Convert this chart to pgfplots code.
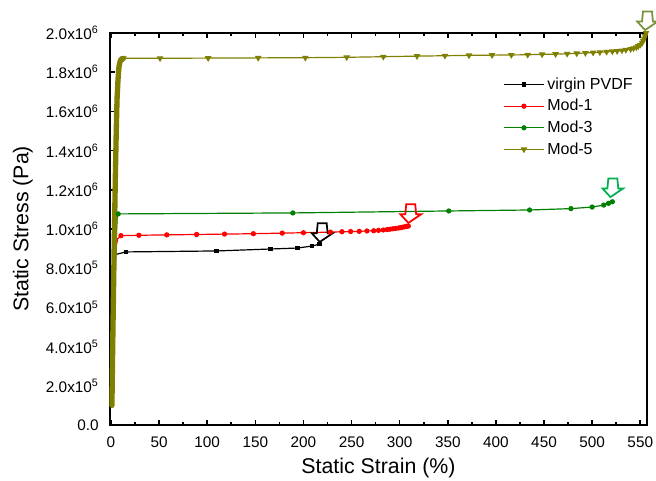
\documentclass[border=0pt]{standalone}
\usepackage{fontspec}
\setmainfont{Liberation Sans}
\usepackage{pgfplots}
\pgfplotsset{compat=1.18}
\definecolor{myred}{RGB}{255,0,0}
\definecolor{mygreen}{RGB}{0,128,0}
\definecolor{myolive}{RGB}{128,128,0}
\definecolor{arrgreen}{RGB}{0,176,80}
\definecolor{arrolive}{RGB}{118,146,60}
\begin{document}
\begin{tikzpicture}
\begin{axis}[
  scale only axis, width=402.75pt, height=294pt,
  xmin=-1, xmax=557, ymin=0, ymax=2000000,
  clip=false,
  axis line style={line width=2pt},
  tick align=inside,
  xtick pos=both, ytick pos=left,
  major tick length=4pt, minor tick length=2.5pt,
  every tick/.style={black, line width=1.2pt},
  xtick={0,50,...,550},
  minor x tick num=1,
  ytick={0,200000,400000,600000,800000,1000000,1200000,1400000,1600000,1800000,2000000},
  yticklabels={0.0,2.0x10\textsuperscript{5},4.0x10\textsuperscript{5},6.0x10\textsuperscript{5},8.0x10\textsuperscript{5},1.0x10\textsuperscript{6},1.2x10\textsuperscript{6},1.4x10\textsuperscript{6},1.6x10\textsuperscript{6},1.8x10\textsuperscript{6},2.0x10\textsuperscript{6}},
  scaled y ticks=false,
  /pgf/number format/assume math mode=true,
  ticklabel style={font=\fontsize{11.5}{13}\selectfont},
  yticklabel style={xshift=-5pt},
  xticklabel style={yshift=-5pt},
  xlabel={Static Strain (\%)},
  ylabel={Static Stress (Pa)},
  label style={font=\fontsize{16}{19}\selectfont},
  xlabel style={at={(axis description cs:0.5,-0.072)}, anchor=north},
  ylabel style={at={(axis description cs:-0.135,0.5)}, anchor=south, rotate=0},
  legend style={at={(0.725,0.9)}, anchor=north west, draw=none, fill=none,
    font=\fontsize{12}{14}\selectfont, row sep=2pt},
  legend cell align=left,
  legend image code/.code={\draw[mark repeat=2,mark phase=2] plot coordinates {(0cm,0cm) (0.52cm,0cm) (1.05cm,0cm)};},
]
% steep initial parts (no marks)
\addplot[black, line width=0.9pt, forget plot] coordinates {
(0.5,100000) (3,700000) (5,870000) (15.6,883000)
};
\addplot[myred, line width=0.9pt, forget plot] coordinates {
(0.5,100000) (3,600000) (5,900000) (7,950000) (10.4,966000)
};
\addplot[mygreen, line width=0.9pt, forget plot] coordinates {
(0.5,100000) (3,550000) (5,900000) (6.5,1060000) (7.5,1077000)
};
% plateaus with marks
\addplot[black, line width=0.9pt, mark=square*, mark size=1.3pt] coordinates {
(15.6,883000) (110,888000) (166,898000) (194,903000) (209,913000) (217,923000)
};
\addlegendentry{virgin PVDF}
\addplot[myred, line width=0.9pt, mark=*, mark size=1.5pt] coordinates {
(10.4,966000) (29,968000) (58,970000) (89,972000) (118,974000) (148,976000) (178,979000) (200,981000) (228,984000) (240,986000) (249,987000) (258,988000) (266,990000) (273,991000) (278,993000) (283,995000) (287,997000) (290,999000) (293,1001000) (296,1003000) (299,1005000) (301,1007000) (303,1009000) (305,1011000) (307,1013000) (309,1015000)
};
\addlegendentry{Mod-1}
\addplot[mygreen, line width=0.9pt, mark=*, mark size=1.5pt] coordinates {
(7.5,1077000) (189,1082000) (351,1092000) (435,1097000) (478,1104000) (500,1112000) (512,1122000) (517,1131000) (521,1139000)
};
\addlegendentry{Mod-3}
\addplot[myolive, line width=0.9pt, mark=triangle*, mark size=2pt, mark options={rotate=180}] coordinates {
(13,1871000) (51,1871000) (101,1872000) (153,1873000) (202,1874000) (245,1876000) (283,1879000) (318,1882000) (347,1884000) (372,1886000) (396,1887000) (416,1888000) (433,1889000) (448,1891000) (462,1892000) (474,1894000) (484,1896000) (493,1898000) (501,1900000) (508,1902000) (515,1904000) (521,1906000) (526,1908000) (531,1911000) (535,1914000) (540,1918000) (543,1922000) (546,1927000) (548,1933000) (550,1940000) (552,1950000) (553,1960000) (554,1972000) (555,1985000) (556,2000000)
};
\addlegendentry{Mod-5}
\addplot[myolive, line width=4pt, line cap=round, line join=round, forget plot] coordinates {
(1,100000) (1.8,400000) (2.7,700000) (3.5,950000) (4.5,1250000) (5.5,1500000) (6.3,1660000) (7.3,1760000) (8.3,1827000) (9.5,1855000) (10.5,1865000) (13,1871000)
};
\draw[black, line width=1.3pt, line join=miter] (axis cs:217,934000) -- ++(-6pt,6.5pt) -- ++(3pt,0) -- ++(0,7.5pt) -- ++(6pt,0) -- ++(0,-7.5pt) -- ++(3pt,0) -- cycle;
\draw[myred, line width=1.3pt, line join=miter] (axis cs:309,1031000) -- ++(-6pt,6.5pt) -- ++(3pt,0) -- ++(0,7.5pt) -- ++(6pt,0) -- ++(0,-7.5pt) -- ++(3pt,0) -- cycle;
\draw[arrgreen, line width=1.3pt, line join=miter] (axis cs:519,1163000) -- ++(-6pt,6.5pt) -- ++(3pt,0) -- ++(0,7.5pt) -- ++(6pt,0) -- ++(0,-7.5pt) -- ++(3pt,0) -- cycle;
\draw[arrolive, line width=1.3pt, line join=miter] (axis cs:555,2015000) -- ++(-6pt,6.5pt) -- ++(3pt,0) -- ++(0,7.5pt) -- ++(6pt,0) -- ++(0,-7.5pt) -- ++(3pt,0) -- cycle;
\end{axis}
\pgfresetboundingbox
\path (-82.5pt,-42pt) rectangle (409.5pt,318.75pt);
\end{tikzpicture}
\end{document}
